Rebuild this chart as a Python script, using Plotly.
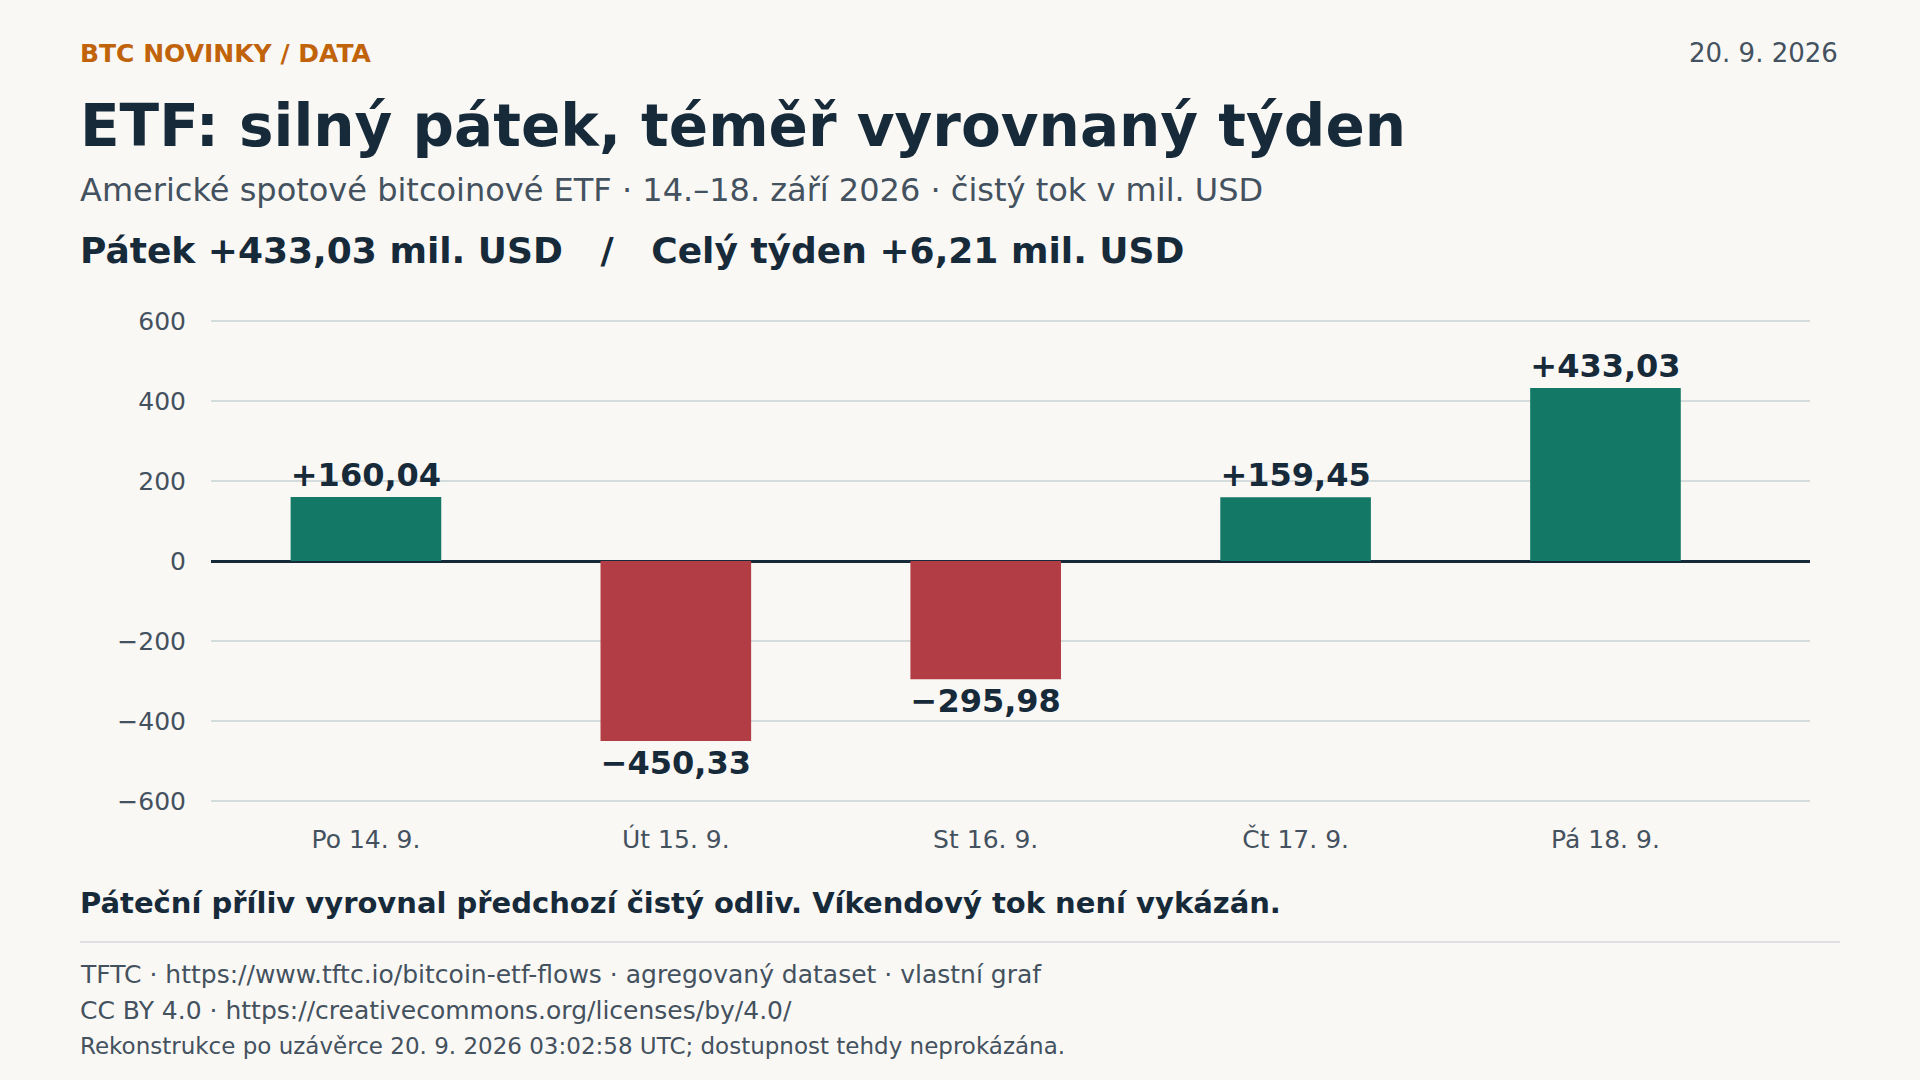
import plotly.graph_objects as go

days = ["Po 14. 9.", "Út 15. 9.", "St 16. 9.", "Čt 17. 9.", "Pá 18. 9."]
flows = [160.04, -450.33, -295.98, 159.45, 433.03]
tick_vals = [-600, -400, -200, 0, 200, 400, 600]

W, H = 1920, 1080
L, R, T, B = 211, 110, 318, 276
pw, ph = W - L - R, H - T - B

def fmt(v):
    s = f"{abs(v):.2f}".replace(".", ",")
    return ("+" if v >= 0 else "\u2212") + s

def px(x): return (x - L) / pw
def py(y): return (H - B - y) / ph

colors = ["#137865" if v >= 0 else "#b33d44" for v in flows]
fig = go.Figure(go.Bar(
    x=days, y=flows, marker_color=colors, marker_line_width=0, width=0.486,
    text=[fmt(v) for v in flows], textposition="outside", cliponaxis=False,
    textfont=dict(size=32, color="#172a3a", family="DejaVu Sans", weight="bold"),
    hoverinfo="skip"))

TXT = "#172a3a"; GREY = "#44515e"
X0 = 78
anns = [
    dict(x=px(X0), y=py(53), text="<b>BTC NOVINKY / DATA</b>", size=25, color="#c0630a", xa="left"),
    dict(x=px(1840), y=py(53), text="20. 9. 2026", size=26, color=GREY, xa="right"),
    dict(x=px(X0), y=py(126), text="<b>ETF: silný pátek, téměř vyrovnaný týden</b>", size=58, color=TXT, xa="left"),
    dict(x=px(X0), y=py(190), text="Americké spotové bitcoinové ETF · 14.–18. září 2026 · čistý tok v mil. USD", size=32, color=GREY, xa="left"),
    dict(x=px(X0), y=py(250), text="<b>Pátek +433,03 mil. USD   /   Celý týden +6,21 mil. USD</b>", size=36, color=TXT, xa="left"),
    dict(x=px(X0), y=py(903), text="<b>Páteční příliv vyrovnal předchozí čistý odliv. Víkendový tok není vykázán.</b>", size=29, color=TXT, xa="left"),
    dict(x=px(X0), y=py(974), text="TFTC · https://www.tftc.io/bitcoin-etf-flows · agregovaný dataset · vlastní graf", size=25, color=GREY, xa="left"),
    dict(x=px(X0), y=py(1010), text="CC BY 4.0 · https://creativecommons.org/licenses/by/4.0/", size=25, color=GREY, xa="left"),
    dict(x=px(X0), y=py(1046), text="Rekonstrukce po uzávěrce 20. 9. 2026 03:02:58 UTC; dostupnost tehdy neprokázána.", size=23, color=GREY, xa="left"),
]
fig.update_layout(annotations=[dict(x=a["x"], y=a["y"], xref="paper", yref="paper", text=a["text"],
    showarrow=False, xanchor=a["xa"], yanchor="middle",
    font=dict(size=a["size"], color=a["color"], family="DejaVu Sans")) for a in anns])

fig.add_shape(type="line", xref="paper", yref="paper", x0=px(80), x1=px(1840), y0=py(942), y1=py(942),
              line=dict(color="#d4d9dc", width=1.5))

fig.update_layout(
    width=W, height=H, margin=dict(l=L, r=R, t=T, b=B, autoexpand=False),
    paper_bgcolor="#f9f8f5", plot_bgcolor="#f9f8f5", showlegend=False,
    font=dict(family="DejaVu Sans", color=GREY),
    xaxis=dict(tickfont=dict(size=25, color=GREY), showgrid=False, ticks="", showline=False,
               ticklabelstandoff=18, range=[-0.5, 4.66]),
    yaxis=dict(range=[-608, 608], tickvals=tick_vals,
               ticktext=[str(v).replace("-", "\u2212") for v in tick_vals],
               tickfont=dict(size=25, color=GREY), gridcolor="#d4dcdc", gridwidth=1.5,
               zeroline=True, zerolinecolor="#172a3a", zerolinewidth=2.5, ticks="", ticklabelstandoff=24),
)
fig.write_html("out.html", config={"displayModeBar": False},
               post_script="document.body.style.margin='0';document.body.style.background='#f9f8f5';")
